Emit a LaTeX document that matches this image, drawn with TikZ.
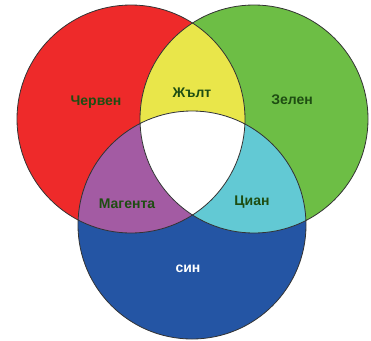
\documentclass[tikz,border=0pt]{standalone}
\usepackage{fontspec}
\setmainfont{Liberation Sans}
\begin{document}
\begin{tikzpicture}[x=1pt,y=-1pt,
  lbl/.style={font=\fontsize{14}{16}\selectfont\bfseries, text=txtgreen, inner sep=0pt},
  rim/.style={draw=rimgray, line width=0.8pt}]
\definecolor{cred}{HTML}{EE2A2A}
\definecolor{cgreen}{HTML}{6DBE45}
\definecolor{cblue}{HTML}{2455A4}
\definecolor{cyellow}{HTML}{E9E64A}
\definecolor{cmag}{HTML}{A35BA3}
\definecolor{ccyan}{HTML}{62C9D4}
\definecolor{txtgreen}{HTML}{1E4D12}
\definecolor{rimgray}{HTML}{333333}
\useasboundingbox (0,0) rectangle (371,340);
\def\R{114}
\coordinate (cr) at (131,119);
\coordinate (cg) at (254,119);
\coordinate (cb) at (192,225);
\fill[cred] (cr) circle (\R);
\fill[cgreen] (cg) circle (\R);
\fill[cblue] (cb) circle (\R);
\begin{scope}\clip (cr) circle (\R); \fill[cyellow] (cg) circle (\R); \end{scope}
\begin{scope}\clip (cr) circle (\R); \fill[cmag] (cb) circle (\R); \end{scope}
\begin{scope}\clip (cg) circle (\R); \fill[ccyan] (cb) circle (\R); \end{scope}
\begin{scope}\clip (cr) circle (\R); \clip (cg) circle (\R); \fill[white] (cb) circle (\R); \end{scope}
\draw[rim] (cr) circle (\R);
\draw[rim] (cg) circle (\R);
\draw[rim] (cb) circle (\R);
\node[lbl] (red) at (96,102) {Червен};
\node[lbl] (yel) at (192,93) {Жълт};
\node[lbl] (grn) at (292,100) {Зелен};
\node[lbl] (mag) at (127,204) {Магента};
\node[lbl] (cya) at (252,202) {Циан};
\node[lbl, text=white] (blu) at (188,269) {син};
\end{tikzpicture}
\end{document}
